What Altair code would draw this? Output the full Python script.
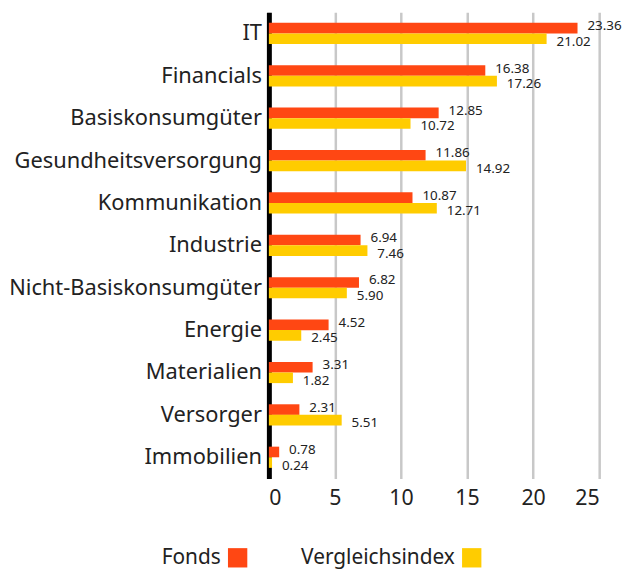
import altair as alt
import pandas as pd

categories = ["IT", "Financials", "Basiskonsumgüter", "Gesundheitsversorgung",
              "Kommunikation", "Industrie", "Nicht-Basiskonsumgüter", "Energie",
              "Materialien", "Versorger", "Immobilien"]
fonds = [23.36, 16.38, 12.85, 11.86, 10.87, 6.94, 6.82, 4.52, 3.31, 2.31, 0.78]
index_vals = [21.02, 17.26, 10.72, 14.92, 12.71, 7.46, 5.90, 2.45, 1.82, 5.51, 0.24]
series = ["Fonds", "Vergleichsindex"]
colors = ["#ff4713", "#ffcc00"]

rows = []
for c, f, v in zip(categories, fonds, index_vals):
    rows.append({"cat": c, "series": series[0], "value": f})
    rows.append({"cat": c, "series": series[1], "value": v})
df = pd.DataFrame(rows)

FONT = "Noto Sans"

y_enc = alt.Y("cat:N", sort=categories,
              scale=alt.Scale(paddingInner=0.5, paddingOuter=0.25),
              axis=alt.Axis(title=None, labelFontSize=22, labelFont=FONT,
                            labelColor="#222", ticks=False, domain=True,
                            domainColor="#000", domainWidth=5, labelPadding=7.5,
                            labelLimit=0, grid=False))
yoff = alt.YOffset("series:N", sort=series, scale=alt.Scale(paddingInner=0, paddingOuter=0))
x_enc = alt.X("value:Q", scale=alt.Scale(domain=[0, 25], nice=False),
              axis=alt.Axis(title=None, values=[0, 5, 10, 15, 20, 25],
                            labelFontSize=21.5, labelFont=FONT, labelColor="#222",
                            ticks=False, domain=False, grid=True,
                            gridColor="#c8c8c8", gridWidth=2.5, labelPadding=9))
color_enc = alt.Color("series:N", sort=series,
                      scale=alt.Scale(domain=series, range=colors), legend=None)

base = alt.Chart(df)
bars = base.mark_bar(size=10.7).encode(y=y_enc, yOffset=yoff, x=x_enc, color=color_enc)
lab1 = base.transform_filter(alt.datum.series == series[0]).mark_text(
    align="left", baseline="middle", dx=10, dy=-2, fontSize=13.5, font=FONT, color="#222"
).encode(y=alt.Y("cat:N", sort=categories), yOffset=yoff, x="value:Q",
         text=alt.Text("value:Q", format=".2f"))
lab2 = base.transform_filter(alt.datum.series == series[1]).mark_text(
    align="left", baseline="middle", dx=10, dy=3, fontSize=13.5, font=FONT, color="#222"
).encode(y=alt.Y("cat:N", sort=categories), yOffset=yoff, x="value:Q",
         text=alt.Text("value:Q", format=".2f"))

main = alt.layer(bars, lab1, lab2).properties(width=333, height=470)

leg_df = pd.DataFrame({"series": series})
lx = alt.X("series:N", sort=series, axis=None,
           scale=alt.Scale(domain=series, range=[-31.5, 204.5], padding=0))
leg_sq = alt.Chart(leg_df).mark_square(size=380, opacity=1).encode(
    x=lx, y=alt.value(10), color=color_enc)
leg_tx = alt.Chart(leg_df).mark_text(
    align="right", baseline="middle", dx=-17, fontSize=21, font=FONT, color="#222"
).encode(x=lx, y=alt.value(10), text="series:N")
legend = alt.layer(leg_sq, leg_tx).properties(width=333, height=20)

chart = alt.vconcat(main, legend, spacing=38).configure_view(stroke=None).properties(
    padding={"left": 0, "top": 2, "right": 0, "bottom": 0})

chart.save("out.html", embed_options={"renderer": "svg", "actions": False})
